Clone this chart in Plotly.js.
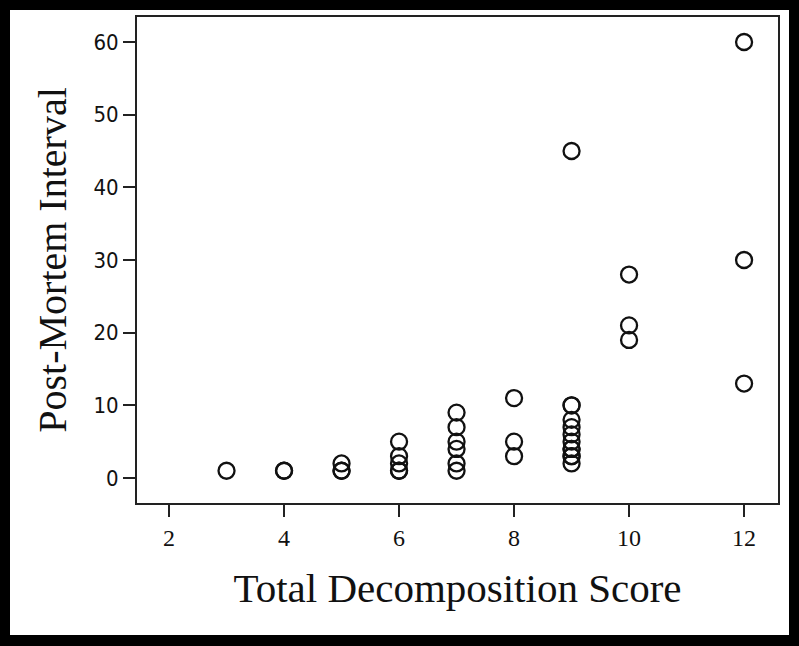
<!DOCTYPE html>
<html>
<head>
<meta charset="utf-8">
<script src="https://cdn.plot.ly/plotly-3.0.1.min.js"></script>
<style>
  html, body { margin: 0; padding: 0; background: #000; }
  body { width: 799px; height: 646px; position: relative; overflow: hidden; }
  #chart { position: absolute; left: 10px; top: 10px; width: 779px; height: 625px; background: #fff; }
</style>
</head>
<body>
<div id="chart"></div>
<script>
// Total Decomposition Score (x) and Post-Mortem Interval (y)
const scores = [3, 4, 4, 5, 5, 5, 6, 6, 6, 6, 6,
                7, 7, 7, 7, 7, 7, 8, 8, 8,
                9, 9, 9, 9, 9, 9, 9, 9, 9, 9, 9, 9,
                10, 10, 10, 12, 12, 12];
const pmi    = [1, 1, 1, 1, 1, 2, 5, 3, 2, 1, 1,
                9, 7, 5, 4, 2, 1, 11, 5, 3,
                45, 10, 10, 8, 7, 6, 5, 4, 4, 3, 3, 2,
                28, 21, 19, 60, 30, 13];
const xTicks = [2, 4, 6, 8, 10, 12];
const yTicks = [0, 10, 20, 30, 40, 50, 60];

const serif = '"Liberation Serif", "Times New Roman", Times, serif';
const narrow = '"Liberation Sans Narrow", "Arial Narrow", "DejaVu Sans Condensed", "Liberation Serif", serif';

const trace = {
  type: 'scatter',
  mode: 'markers',
  x: scores,
  y: pmi,
  marker: {
    symbol: 'circle',
    size: 16,
    color: 'rgba(0,0,0,0)',
    line: { color: '#111', width: 2.3 }
  },
  hoverinfo: 'x+y',
  showlegend: false
};

const layout = {
  width: 779,
  height: 625,
  margin: { l: 127, r: 11, t: 7, b: 132, pad: 0 },
  paper_bgcolor: '#fff',
  plot_bgcolor: '#fff',
  xaxis: {
    range: [1.443, 12.59],
    tickmode: 'array',
    tickvals: xTicks,
    ticktext: xTicks.map(String),
    ticks: 'outside',
    ticklen: 12,
    tickwidth: 2,
    tickcolor: '#222',
    showline: true,
    linecolor: '#222',
    linewidth: 2,
    mirror: true,
    showgrid: false,
    zeroline: false,
    tickfont: { family: serif, size: 24, color: '#111' },
    title: { text: 'Total Decomposition Score', font: { family: serif, size: 41, color: '#111' }, standoff: 24 }
  },
  yaxis: {
    range: [-3.44, 63.44],
    tickmode: 'array',
    tickvals: yTicks,
    ticktext: yTicks.map(String),
    ticks: 'outside',
    ticklen: 12,
    tickwidth: 2,
    tickcolor: '#222',
    showline: true,
    linecolor: '#222',
    linewidth: 2,
    mirror: true,
    showgrid: false,
    zeroline: false,
    tickfont: { family: narrow, size: 22, color: '#111' },
    title: { text: 'Post-Mortem Interval', font: { family: serif, size: 40, color: '#111' }, standoff: 14 }
  }
};

Plotly.newPlot('chart', [trace], layout, { displayModeBar: false, staticPlot: true });
</script>
</body>
</html>
